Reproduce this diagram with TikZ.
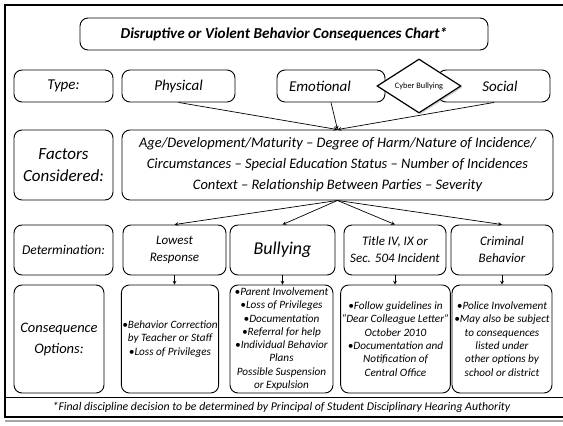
\documentclass[tikz,border=0pt]{standalone}
\usepackage{fontspec}
\setmainfont{Carlito}
\usetikzlibrary{shapes.geometric,shadows}

\begin{document}
\begin{tikzpicture}[x=1pt, y=-1pt,
      >=stealth,
      box/.style={
        draw,
        rounded corners=8pt,
        line width=0.9pt,
        align=center,
        inner sep=1pt,
        font=\itshape
      },
      link/.style={
        ->,
        line width=0.7pt
      },
      small/.style={
        font=\fontsize{11.2}{13.3}\selectfont\itshape
      },
    ]

    \useasboundingbox (0, 0) rectangle (563, 426);
    \draw [gray!70, line width=1.5pt] (5, 421) -- (563, 421);
    \draw [line width=1.2pt] (563, 5) -- (5, 5) -- (5, 417) -- (563, 417);
    \draw [line width=0.9pt] (5, 397) -- (563, 397);

    \node [box, minimum width=408, minimum height=32,
      font=\fontsize{15.2}{17}\selectfont\bfseries\itshape] (title) at (284, 34)
      {Disruptive or Violent Behavior Consequences Chart*};

    \node [box, minimum width=99, minimum height=32,
      font=\fontsize{15}{17}\selectfont\itshape] (type) at (63.5, 86) {Type:};
    \node [box, minimum width=113, minimum height=32,
      font=\fontsize{15}{17}\selectfont\itshape] (physical) at (178.5, 86) {Physical};
    \node [box, minimum width=108, minimum height=32,
      font=\fontsize{15}{17}\selectfont\itshape] (emotional) at (331, 86) {Emotional\hspace*{22pt}};
    \node [box, minimum width=112, minimum height=32,
      font=\fontsize{15}{17}\selectfont\itshape] (social) at (494, 86) {\hspace*{12pt}Social};
    \node [draw, diamond, fill=white, line width=1.2pt, inner sep=0pt,
      aspect=1.55, minimum width=84, minimum height=54,
      drop shadow={opacity=0.35, shadow xshift=1.5pt, shadow yshift=-1.5pt},
      font=\fontsize{8.3}{9}\selectfont] (cyber) at (419, 86) {Cyber Bullying};

    \node [box, minimum width=99, minimum height=70,
      font=\fontsize{17}{22}\selectfont\itshape] (factors) at (63.5, 165)
      {Factors\\Considered:};
    \node [box, minimum width=431, minimum height=70,
      font=\fontsize{14.5}{21}\selectfont\itshape] (factorlist) at (337.5, 165)
      {Age/Development/Maturity -- Degree of Harm/Nature of Incidence/\\
       Circumstances -- Special Education Status -- Number of Incidences\\
       Context -- Relationship Between Parties -- Severity};

    \draw [link] (physical.south) -- (factorlist.north);
    \draw [link] (emotional.south) -- (factorlist.north);
    \draw [link] (social.south) -- (factorlist.north);

    \node [box, minimum width=99, minimum height=50,
      font=\fontsize{13.5}{16}\selectfont\itshape] (determ) at (63.5, 250) {Determination:};
    \node [box, minimum width=103, minimum height=50,
      font=\fontsize{13}{17}\selectfont\itshape] (lowest) at (174.5, 250)
      {Lowest\\Response};
    \node [box, minimum width=105, minimum height=50,
      font=\fontsize{18}{20}\selectfont\itshape] (bullying) at (282.5, 250) {Bullying};
    \node [box, minimum width=102, minimum height=50,
      font=\fontsize{13}{17}\selectfont\itshape] (titleIV) at (395, 250)
      {Title IV, IX or\\Sec. 504 Incident};
    \node [box, minimum width=102, minimum height=50,
      font=\fontsize{13}{17}\selectfont\itshape] (criminal) at (502, 250)
      {Criminal\\Behavior};

    \draw [link] (factorlist.south) -- (lowest.north);
    \draw [link] (factorlist.south) -- (bullying.north);
    \draw [link] (factorlist.south) -- (titleIV.north);
    \draw [link] (factorlist.south) -- (criminal.north);

    \node [box, minimum width=90, minimum height=108,
      font=\fontsize{14.5}{21}\selectfont\itshape] (conseq) at (59, 339)
      {Consequence\\Options:};
    \node [box, small, minimum width=96, minimum height=108] (lowestopt) at (170, 339)
      {\textbullet Behavior Correction\\by Teacher or Staff\\\textbullet Loss of Privileges};
    \node [box, small, minimum width=103, minimum height=108] (bullyopt) at (281.5, 339)
      {\textbullet Parent Involvement\\\textbullet Loss of Privileges\\\textbullet Documentation\\
       \textbullet Referral for help\\\textbullet Individual Behavior\\Plans\\
       Possible Suspension\\or Expulsion};
    \node [box, small, minimum width=105, minimum height=108] (titleopt) at (395.5, 339)
      {\textbullet Follow guidelines in\\``Dear Colleague Letter''\\October 2010\\
       \textbullet Documentation and\\Notification of\\Central Office};
    \node [box, small, minimum width=100, minimum height=108] (crimopt) at (502, 339)
      {\textbullet Police Involvement\\\textbullet May also be subject\\to consequences\\
       listed under\\other options by\\school or district};

    \draw [link] (lowest.south) -- (lowest.south |- lowestopt.north);
    \draw [link] (bullying.south) -- (bullying.south |- bullyopt.north);
    \draw [link] (titleIV.south) -- (titleIV.south |- titleopt.north);
    \draw [link] (criminal.south) -- (criminal.south |- crimopt.north);

    \node [font=\fontsize{11.8}{13}\selectfont\itshape] (footnote) at (281.5, 407)
      {*Final discipline decision to be determined by Principal of Student Disciplinary Hearing Authority};
\end{tikzpicture}
\end{document}
